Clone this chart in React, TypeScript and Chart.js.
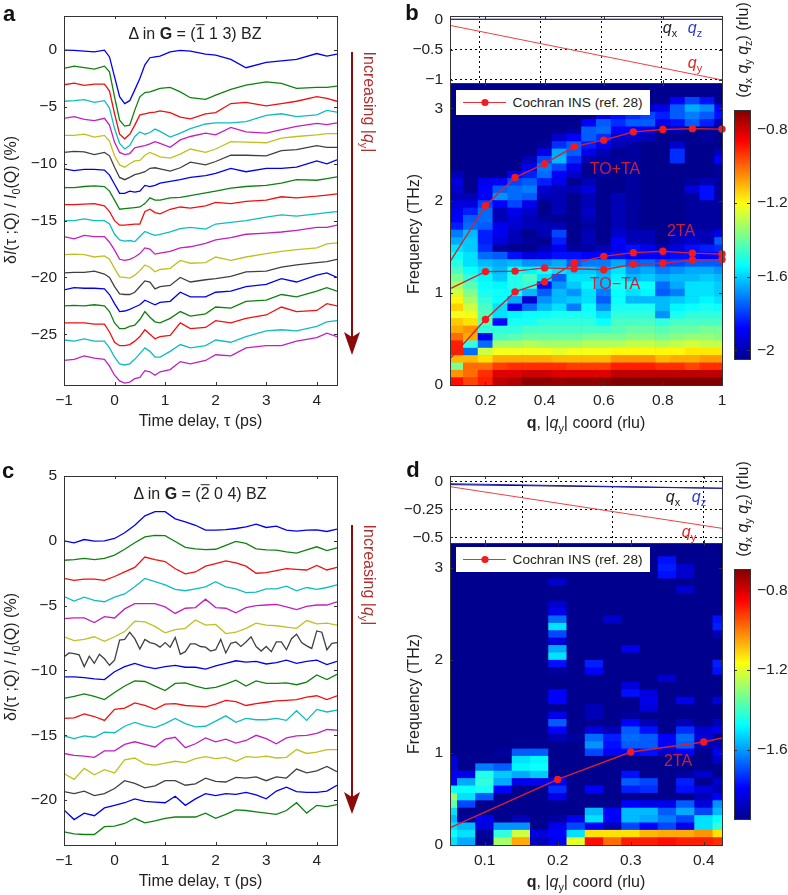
import React, { useEffect, useRef } from "react";
import { Chart, registerables } from "chart.js";

Chart.register(...registerables);
Chart.defaults.font.family = "'Liberation Sans', Arial, sans-serif";
Chart.defaults.font.size = 15.5;
Chart.defaults.color = "#222";

const COLORS = ["#0000f0", "#108010", "#f01010", "#10bcc0", "#c020c0", "#c0c020", "#404040"];

// ---------- panel a ----------
const timesA = [-1, -0.8, -0.6, -0.4, -0.2, -0.1, 0, 0.1, 0.2, 0.3, 0.4, 0.5, 0.6, 0.7, 0.8, 0.9, 1.1, 1.3, 1.5, 1.8, 2, 2.3, 2.6, 3, 3.3, 3.6, 4, 4.2, 4.4];
const a0 = [0, -0.03, -0.09, -0.15, 0, -0.6, -2.35, -4.1, -4.7, -4.45, -3.5, -2.5, -1.3, -0.67, -0.59, -0.53, -0.15, -0.03, -0.09, -0.35, -0.44, -0.82, -1.55, -1.08, -0.94, -0.82, -0.3, -0.53, -0.35];
const a1 = [-1.61, -1.41, -1.55, -1.67, -1.41, -1.91, -4.11, -6.16, -6.69, -6.6, -5.28, -4.11, -3.73, -3.67, -3.52, -3.37, -3.28, -3.67, -4.19, -4.34, -3.96, -3.46, -3.08, -2.79, -2.93, -3.37, -3.28, -3.28, -3.17];
const a2 = [-3.05, -2.9, -3.1, -3, -3, -3.6, -5.6, -7.4, -7.8, -7.4, -6.6, -5.7, -5.6, -5.5, -5.45, -5.35, -5.5, -5.9, -6.05, -5.6, -5.5, -4.7, -4.6, -4.9, -4.7, -4.5, -4.1, -4.25, -4.5];
const a3 = [-4.5, -4.45, -4.35, -4.6, -4.45, -5.1, -6.9, -8.2, -8.7, -8.4, -7.6, -7.2, -7.4, -7.25, -6.95, -7.15, -7.65, -7.3, -6.9, -6.5, -6.4, -6.4, -6.3, -5.75, -5.6, -5.85, -5.7, -5.3, -5.45];
const a4 = [-6, -5.85, -6.1, -6.2, -6, -6.6, -8.1, -9, -9.2, -9.1, -8.6, -8.5, -8.4, -8.25, -8.05, -8.2, -8.55, -7.9, -7.6, -7.3, -7.45, -6.8, -7.2, -7.3, -7, -6.7, -6.45, -6.55, -6.4];
const a5 = [-7.5, -7.5, -7.4, -7.65, -7.5, -8, -9.3, -10.1, -10.3, -10, -9.75, -9.7, -9.25, -9, -9.2, -9.4, -9.5, -9.15, -8.7, -9, -8.7, -8.05, -8.1, -8.15, -7.75, -7.6, -7.45, -7.35, -7.35];
const a6 = [-9, -8.9, -8.95, -9.2, -9, -9.3, -10.3, -11.2, -11.4, -11.2, -10.95, -10.85, -10.7, -10.4, -10.35, -10.45, -10.65, -10.35, -9.85, -10.1, -9.8, -9.25, -9.25, -9.3, -8.85, -8.75, -8.4, -8.55, -8.55];
const a7 = [-10.45, -10.6, -10.5, -10.5, -10.55, -11, -11.8, -12.6, -12.6, -12.4, -12.5, -12.4, -11.9, -12, -11.9, -11.7, -11.55, -11.4, -11.2, -11.05, -10.85, -10.4, -10.7, -10.4, -10.4, -10.3, -9.75, -10, -9.65];
const a8 = [-12.1, -12.1, -12, -11.95, -12, -12.4, -13.2, -14, -13.95, -13.9, -13.85, -13.8, -13.5, -13, -13.2, -13.2, -13, -12.95, -12.8, -12.55, -12.4, -12.15, -12, -11.9, -11.7, -11.4, -11.45, -11.3, -11.15];
const a9 = [-13.6, -13.6, -13.55, -13.5, -13.7, -14.2, -15, -15.4, -15.4, -15.35, -15.3, -15.3, -14.2, -14, -14.3, -14.4, -14, -13.8, -13.9, -13.7, -13.4, -13.5, -13.3, -13.2, -12.9, -13, -12.85, -12.75, -12.65];
const a10 = [-15, -15, -14.85, -15, -15, -15.3, -16.2, -16.7, -16.8, -16.75, -16.85, -16.4, -15.95, -16.15, -16.3, -16.2, -16, -15.7, -15.6, -15.75, -15.3, -15.15, -15, -14.7, -14.5, -14.6, -14.4, -14.3, -14.2];
const a11 = [-16.4, -16.6, -16.3, -16.4, -16.4, -16.9, -17.6, -18.4, -18.5, -18.4, -18.2, -17.9, -17.4, -17.5, -17.95, -17.85, -17.7, -17.4, -17.3, -17, -16.7, -16.5, -16.2, -16.1, -16, -15.85, -15.6, -15.6, -15.4];
const a12 = [-18, -17.95, -18, -18.2, -18.1, -18.4, -19.2, -19.95, -20, -20.05, -19.8, -19.4, -18.9, -19.1, -19.5, -19.3, -19.2, -18.5, -18.75, -18.7, -18.2, -18.5, -18.2, -17.9, -17.7, -17.55, -17.4, -17.05, -16.95];
const a13 = [-19.6, -19.55, -19.55, -19.45, -19.7, -20, -20.8, -21.45, -21.5, -21.5, -21.3, -20.8, -20.3, -20.4, -21, -20.8, -20.7, -20, -20.4, -20.2, -20.1, -19.9, -19.5, -19.45, -19.1, -18.9, -18.7, -18.6, -18.4];
const a14 = [-21.1, -20.9, -20.95, -20.95, -21, -21.5, -22.3, -23, -22.95, -22.8, -22.6, -22.4, -22, -22.2, -22.4, -22.2, -22.1, -21.3, -21.7, -21.7, -21.3, -21.2, -20.8, -20.6, -20.1, -20.4, -19.8, -19.6, -20];
const a15 = [-22.5, -22.45, -22.5, -22.4, -22.5, -23, -24, -24.5, -24.5, -24.3, -24.2, -23.7, -23, -23.5, -23.9, -24, -23.6, -23, -23.4, -23.2, -22.6, -22.7, -22.1, -22, -21.5, -21.7, -21.2, -20.9, -21.2];
const a16 = [-24, -24, -24, -24.1, -24.1, -24.8, -25.7, -26, -26, -25.9, -25.6, -25.2, -24.6, -25, -25.4, -25.2, -25.1, -24, -24.5, -24.4, -23.8, -24, -23.6, -23.3, -22.6, -23, -22.9, -22.3, -22.5];
const a17 = [-25.5, -25.6, -25.4, -25.6, -25.6, -26.2, -27, -27.6, -27.7, -27.6, -27.2, -26.7, -26.2, -26.5, -27, -27, -26.5, -25.9, -26.2, -26, -25.5, -25.7, -25.2, -24.7, -24.6, -24.7, -24.3, -23.9, -23.8];
const a18 = [-27.3, -27.2, -26.9, -27.1, -27.2, -27.8, -28.6, -29.1, -29.3, -29.2, -28.9, -28.8, -28.2, -28.3, -28.6, -28.3, -28.1, -27.4, -27.6, -27.3, -26.8, -26.9, -26.2, -26, -26, -25.6, -25.3, -24.9, -25.2];
const seriesA = [a0, a1, a2, a3, a4, a5, a6, a7, a8, a9, a10, a11, a12, a13, a14, a15, a16, a17, a18];

// ---------- panel c ----------
const timesC = [-1, -0.8, -0.6, -0.4, -0.2, 0, 0.2, 0.4, 0.6, 0.8, 1, 1.2, 1.4, 1.6, 1.8, 2, 2.2, 2.4, 2.6, 2.8, 3, 3.2, 3.4, 3.6, 3.8, 4, 4.2, 4.4];
const timesCFine = [-1, -0.9, -0.8, -0.7, -0.6, -0.5, -0.4, -0.3, -0.2, -0.1, 0, 0.1, 0.2, 0.3, 0.4, 0.5, 0.6, 0.7, 0.8, 0.9, 1, 1.1, 1.2, 1.3, 1.4, 1.5, 1.6, 1.7, 1.8, 1.9, 2, 2.1, 2.2, 2.3, 2.4, 2.5, 2.6, 2.7, 2.8, 2.9, 3, 3.1, 3.2, 3.3, 3.4, 3.5, 3.6, 3.7, 3.8, 3.9, 4, 4.1, 4.2, 4.3, 4.4];
const c0 = [0, -0.15, 0.1, -0.02, 0, 0.18, 0.62, 1.2, 1.93, 2.25, 2.25, 1.7, 1.46, 1.2, 0.82, 0.82, 0.87, 0.95, 1.08, 1.28, 1.03, 1.13, 0.82, 0.75, 0.82, 0.85, 0.72, 0.9];
const c1 = [-1.5, -1.45, -1.35, -1.45, -1.35, -1.1, -0.65, -0.15, 0.3, 0.42, 0.4, -0.05, -0.5, -0.62, -0.68, -0.65, -0.35, -0.05, -0.2, -0.62, -0.7, -0.72, -0.85, -0.95, -0.7, -0.46, -0.75, -0.54];
const c2 = [-2.9, -3.05, -2.95, -2.95, -3.05, -2.75, -2.4, -2.05, -1.25, -1.45, -1.6, -2.15, -2.55, -2.4, -1.95, -1.75, -1.55, -1.7, -1.95, -2.5, -2.45, -2.3, -2.15, -2.2, -2.25, -1.9, -2.25, -2.05];
const c3 = [-4.3, -4.65, -4.35, -4.6, -4.7, -4.35, -4.1, -3.55, -2.9, -3.15, -3.4, -3.75, -3.85, -3.7, -3.55, -3.15, -3.55, -3.7, -4, -3.95, -3.7, -3.7, -3.5, -3.85, -3.6, -3.75, -3.6, -3.4];
const c4 = [-6, -5.95, -5.95, -6.3, -5.85, -5.95, -5.25, -4.85, -4.85, -4.85, -5.1, -5.6, -5.2, -5.15, -4.5, -5.15, -5.2, -5.55, -5.15, -5, -4.95, -4.9, -5.1, -5.3, -5.05, -4.95, -4.95, -4.7];
const c5 = [-7.4, -7.7, -7.6, -7.4, -7.75, -7.4, -7, -6.2, -6.25, -6.6, -7.1, -6.85, -6.75, -6.1, -6.5, -6.45, -7.15, -7.05, -6.75, -6.35, -6.5, -6.55, -6.65, -6.75, -6.15, -6.4, -6.35, -6.5];
const c6 = [-8.95, -8.65, -8.7, -8.8, -9.7, -8.9, -9.45, -8.75, -9.1, -9.6, -9.2, -7.65, -7.6, -7.05, -7.55, -8.35, -7.6, -7.85, -7.95, -8.2, -7.85, -8.2, -7.45, -8.75, -8.55, -7.95, -7.95, -8.15, -8.2, -8.5, -8.4, -7.6, -8.65, -7.9, -7.8, -8.15, -7.8, -7.4, -8.15, -8.5, -8.15, -8.55, -7.8, -7.8, -8.4, -7.55, -7.2, -7.85, -8.1, -8.3, -6.95, -7.05, -8.4, -7.9, -7.85];
const c7 = [-10.5, -10.5, -10.55, -10.65, -10.7, -10.1, -9.7, -9.45, -9.7, -9.85, -9.7, -9.6, -9.75, -9.75, -9.9, -9.65, -9.45, -9.25, -9.35, -9.3, -9.5, -9.4, -9.2, -9.45, -9.3, -9.2, -9.55, -9.3];
const c8 = [-12.15, -12, -11.8, -12, -12.25, -11.7, -11.2, -10.8, -10.85, -11.2, -11.55, -11, -10.95, -11.2, -11.4, -11.3, -11.05, -10.75, -11.2, -10.8, -11, -11, -10.95, -11.1, -10.9, -10.35, -10.7, -10.3];
const c9 = [-13.7, -13.65, -13.35, -13.55, -13.85, -13, -12.9, -12.5, -12.7, -13, -12.6, -12.55, -12.7, -12.75, -12.8, -12.6, -12.3, -12.4, -12.7, -12.55, -12.45, -12.35, -12.3, -12.25, -12.05, -11.95, -12.25, -11.95];
const c10 = [-15.05, -15.25, -15.05, -15.15, -14.75, -14.8, -14.3, -14, -14.25, -14.4, -14.1, -13.7, -14.1, -14.35, -14.3, -13.9, -13.5, -14, -13.7, -13.8, -13.8, -13.7, -13.85, -13.1, -13.85, -13, -13.2, -13.05];
const c11 = [-16.4, -16.55, -16.6, -16.7, -16.2, -16.2, -15.7, -15.5, -15.7, -15.9, -15.3, -15.15, -15.95, -15.65, -15.2, -15.5, -15.3, -15.6, -15.4, -15, -15.25, -15.65, -15.2, -15.05, -15, -14.85, -14.55, -14.6];
const c12 = [-17.95, -18.4, -17.55, -18.05, -17.65, -17.9, -16.9, -16.75, -17.2, -17.3, -17.15, -17, -17.1, -16.8, -16.65, -16.8, -16.7, -17, -16.65, -16.7, -16.6, -16.75, -16.7, -16.1, -16.4, -16.3, -16.1, -16.1];
const c13 = [-19.35, -19.5, -19.3, -19.65, -19.5, -19.1, -18.5, -18.7, -19.05, -18.9, -18.5, -18.5, -18.85, -18.75, -18.3, -18.55, -18.6, -18.25, -18.3, -18.2, -18.5, -18.2, -18.3, -17.6, -17.9, -17.75, -17.4, -17.8];
const c14 = [-20.75, -21.5, -21, -21.2, -20.6, -20.4, -20.2, -19.9, -20.1, -20.15, -20.2, -19.7, -20.4, -19.9, -19.5, -19.65, -19.5, -19.55, -19.4, -19.6, -19.9, -19.3, -19, -19.35, -19.4, -19.4, -19.3, -18.85];
const c15 = [-22.45, -22.6, -22.65, -22.65, -22.05, -22, -21.8, -21.4, -21.75, -21.6, -21.4, -21.3, -21.3, -21.3, -21, -21.4, -21.1, -20.75, -20.8, -20.9, -21, -21.1, -20.8, -20.2, -21, -20.4, -20.5, -20.35];
const seriesC = [c0, c1, c2, c3, c4, c5, c6, c7, c8, c9, c10, c11, c12, c13, c14, c15];

// ---------- panel b ----------
const FREQ_BIN = 0.08;
const qB = [0.1, 0.15, 0.2, 0.25, 0.3, 0.35, 0.4, 0.45, 0.5, 0.55, 0.6, 0.65, 0.7, 0.75, 0.8, 0.85, 0.9, 0.95, 1];
const heatB = [
  [-0.88, -1.05, -1.35, -1.1, -0.9, -0.9, -1, -1.08, -1.12, -1.2, -1.13, -1.18, -1.25, -1.3, -1.36, -1.42, -1.46, -1.5, -1.55, -1.62, -1.68, -1.8, -1.85, -1.88, -1.9, -1.95, -1.92, -1.9, -1.95, -2],
  [-0.95, -1, -1, -1.1, -1.7, -1.45, -1.08, -1.05, -1.15, -1.2, -1.25, -1.3, -1.35, -1.4, -1.45, -1.5, -1.55, -1.55, -1.58, -1.58, -1.6, -1.7, -1.72, -1.8, -1.9, -1.95],
  [-0.9, -0.92, -1, -1.15, -1.25, -1.7, -1.87, -1.45, -1.4, -1.4, -1.42, -1.45, -1.48, -1.5, -1.52, -1.55, -1.6, -1.7, -1.78, -1.8, -1.8, -1.72, -1.7, -1.7, -1.75, -1.85, -1.85, -1.88, -2],
  [-0.78, -0.82, -0.94, -1.08, -1.2, -1.3, -1.42, -1.45, -1.83, -1.55, -1.55, -1.5, -1.5, -1.52, -1.58, -1.6, -1.62, -1.72, -1.98, -1.9, -1.88, -1.88, -1.95, -1.95, -1.85, -1.65, -1.72, -1.85, -2],
  [-0.76, -0.82, -0.92, -1.08, -1.2, -1.3, -1.4, -1.45, -1.48, -1.52, -1.88, -1.62, -1.5, -1.47, -1.47, -1.5, -1.6, -1.82, -2, -1.95, -1.95, -1.92, -1.9, -1.88, -1.75, -1.7, -1.7, -1.75, -1.88, -2],
  [-0.72, -0.8, -0.92, -1.08, -1.2, -1.28, -1.38, -1.42, -1.48, -1.5, -1.7, -1.92, -1.6, -1.45, -1.42, -1.52, -1.65, -1.9, -2, -1.98, -2, -1.95, -1.95, -1.92, -1.88, -1.72, -1.68, -1.72, -1.8, -1.88, -1.95, -2],
  [-0.72, -0.8, -0.92, -1.08, -1.2, -1.3, -1.38, -1.42, -1.45, -1.5, -1.6, -1.65, -1.72, -1.82, -1.55, -1.48, -1.65, -1.88, -1.95, -2, -1.95, -1.95, -1.98, -2, -2, -1.95, -1.92, -1.8, -1.7, -1.68, -1.75, -1.88, -1.98, -2],
  [-0.73, -0.82, -0.92, -1.1, -1.22, -1.3, -1.38, -1.42, -1.45, -1.48, -1.55, -1.6, -1.6, -1.65, -1.72, -1.55, -1.62, -1.82, -1.88, -1.8, -1.75, -1.95, -2, -1.95, -1.95, -1.95, -1.95, -1.88, -1.85, -1.75, -1.6, -1.62, -1.78, -1.92, -2],
  [-0.72, -0.82, -0.94, -1.1, -1.2, -1.3, -1.38, -1.42, -1.45, -1.48, -1.68, -1.58, -1.65, -1.58, -1.55, -1.58, -1.72, -1.82, -1.98, -2, -2, -2, -2, -2, -2, -2, -1.95, -2, -1.92, -1.88, -1.78, -1.72, -1.72, -1.85, -1.98],
  [-0.72, -0.82, -0.94, -1.1, -1.2, -1.28, -1.36, -1.42, -1.45, -1.48, -1.5, -1.55, -1.55, -1.52, -1.55, -1.58, -1.68, -1.85, -1.98, -1.95, -1.95, -1.98, -1.95, -1.93, -1.95, -1.95, -1.9, -1.95, -2, -2, -1.95, -1.88, -1.8, -1.72, -1.72, -1.85, -2],
  [-0.72, -0.82, -0.94, -1.1, -1.2, -1.28, -1.36, -1.42, -1.5, -1.55, -1.65, -1.72, -1.68, -1.6, -1.6, -1.62, -1.68, -1.85, -1.95, -2, -2, -2, -2, -2, -2, -2, -2, -2, -1.98, -1.98, -1.98, -1.95, -1.88, -1.78, -1.7, -1.72, -1.88, -2],
  [-0.7, -0.78, -0.9, -1.05, -1.18, -1.28, -1.36, -1.4, -1.42, -1.45, -1.48, -1.5, -1.5, -1.48, -1.52, -1.55, -1.62, -1.82, -1.88, -1.85, -1.92, -1.95, -1.95, -1.95, -1.95, -1.95, -2, -2, -2, -2, -1.98, -2, -1.95, -1.92, -1.85, -1.78, -1.82, -1.9, -1.98],
  [-0.7, -0.78, -0.9, -1.05, -1.18, -1.26, -1.34, -1.38, -1.42, -1.45, -1.48, -1.6, -1.55, -1.5, -1.6, -1.65, -1.72, -1.85, -1.82, -1.95, -1.95, -1.98, -1.98, -1.98, -1.98, -1.98, -1.98, -1.98, -1.98, -1.98, -1.98, -1.98, -1.98, -1.92, -1.85, -1.72, -1.78, -1.95],
  [-0.7, -0.78, -0.9, -1.05, -1.18, -1.26, -1.34, -1.38, -1.42, -1.45, -1.48, -1.6, -1.52, -1.5, -1.58, -1.62, -1.7, -1.85, -1.88, -1.95, -1.95, -2, -2, -2, -2, -2, -2, -2, -2, -2, -2, -2, -2, -1.95, -1.88, -1.72, -1.75, -1.92],
  [-0.7, -0.78, -0.92, -1.1, -1.18, -1.28, -1.36, -1.4, -1.45, -1.65, -1.6, -1.6, -1.72, -1.7, -1.62, -1.68, -1.75, -1.85, -1.95, -2, -2, -2, -2, -2, -2, -2, -2, -2, -2, -2, -2, -2, -2, -2, -2, -1.88, -1.8, -1.88, -2],
  [-0.7, -0.78, -0.92, -1.08, -1.18, -1.26, -1.34, -1.38, -1.42, -1.48, -1.52, -1.58, -1.68, -1.62, -1.6, -1.65, -1.75, -1.82, -1.9, -1.95, -1.95, -2, -2, -2, -2, -2, -2, -2, -2, -2, -1.78, -1.78, -1.92, -2, -1.95, -1.82, -1.72, -1.72, -1.85],
  [-0.7, -0.78, -0.95, -1.08, -1.16, -1.24, -1.32, -1.38, -1.42, -1.45, -1.5, -1.55, -1.55, -1.55, -1.6, -1.62, -1.72, -1.82, -1.82, -1.92, -1.95, -1.98, -1.98, -1.98, -1.98, -1.98, -1.9, -1.98, -2, -2, -2, -2, -2, -2, -2, -1.72, -1.68, -1.62, -1.75],
  [-0.7, -0.78, -0.92, -1.06, -1.16, -1.26, -1.32, -1.36, -1.42, -1.45, -1.48, -1.52, -1.55, -1.55, -1.58, -1.62, -1.72, -1.85, -1.8, -1.95, -1.95, -1.98, -1.98, -1.98, -1.98, -1.82, -1.82, -1.95, -2, -2, -2, -2, -2, -1.98, -2, -1.8, -1.72, -1.66, -1.82],
  [-0.7, -0.78, -0.92, -1.06, -1.16, -1.26, -1.34, -1.36, -1.42, -1.45, -1.5, -1.55, -1.58, -1.58, -1.6, -1.65, -1.72, -1.85, -1.78, -1.72, -1.88, -1.98, -1.98, -1.98, -1.98, -1.98, -1.98, -1.98, -1.98, -1.98, -1.85, -1.95, -2, -2, -2, -1.95, -1.82, -1.85, -2],
];
const inelasticQ = [0, 0.2, 0.3, 0.4, 0.5, 0.6, 0.7, 0.8, 0.9, 1];
const toPlusTa = [0.93, 1.945, 2.25, 2.4, 2.585, 2.655, 2.745, 2.77, 2.78, 2.775];
const toMinusTa = [0.92, 1.23, 1.235, 1.27, 1.26, 1.25, 1.31, 1.32, 1.355, 1.36];
const twoTaB = [0, 0.71, 1.01, 1.12, 1.325, 1.395, 1.435, 1.45, 1.43, 1.42];
const stripQB = [0.08, 1];
const qxB = [0, 0];
const qzB = [0, 0];
const qyB = [-0.1, -1];
const stripGridB = [0.181, 0.387, 0.592, 0.797];
const stripTicksB = [0.2, 0.4, 0.6, 0.8];

// ---------- panel d ----------
const qD = [0.05, 0.075, 0.1, 0.125, 0.15, 0.175, 0.2, 0.225, 0.25, 0.275, 0.3, 0.325, 0.35, 0.375, 0.4, 0.425];
const heatD = [
  [-1.55, -1.5, -1.55, -1.6, -1.55, -1.38, -1.32, -1.5, -1.85, -1.88, -1.9, -1.9],
  [-1.62, -1.55, -1.6, -1.98, -2, -1.75, -1.55, -1.5, -1.62, -1.88],
  [-2, -1.98, -1.9, -1.88, -2, -2, -1.72, -1.48, -1.45, -1.47, -1.68, -2],
  [-1.3, -1.45, -1.65, -2, -2, -2, -2, -1.85, -1.62, -1.58, -1.72, -2, -1.98],
  [-1.08, -1.25, -1.65, -1.95, -2, -2, -2, -2, -1.88, -1.62, -1.52, -1.55, -1.72, -2],
  [-1.95, -1.9, -2, -2, -2, -2, -2, -2, -1.88, -1.58, -1.5, -1.52, -1.72, -2],
  [-1.88, -1.85, -1.88, -1.98, -2, -2, -1.88, -1.78, -1.88, -2, -2, -2, -2, -2, -1.95, -1.85, -1.72, -1.88, -2, -1.85, -1.85, -2, -2, -1.98, -1.82, -1.55, -1.62, -1.9, -1.75, -1.55, -1.7, -1.88, -1.92, -2, -2, -1.92],
  [-1.22, -1.55, -1.75, -1.88, -2, -2, -2, -2, -2, -2, -2, -2, -2, -2, -1.98],
  [-0.88, -1.15, -1.85, -1.55, -1.6, -2, -2, -1.85, -2, -2, -2, -2, -1.75, -1.65, -1.7, -1.9, -2, -1.95, -1.95, -2, -2, -2, -2, -1.85, -1.8],
  [-1, -1.15, -1.95, -1.85, -1.85, -2, -2, -2, -2, -2, -2, -2, -1.85, -1.82, -1.8, -1.95, -2, -2, -2, -2, -2, -2, -2, -2, -2, -2, -2, -2, -2, -2, -1.92],
  [-0.9, -1.15, -1.75, -1.6, -1.6, -1.85, -2, -1.8, -1.72, -1.82, -2, -2, -1.85, -1.72, -1.7, -1.72, -1.85, -1.98, -2, -2, -1.82, -1.9, -2, -2, -2, -2, -1.88],
  [-0.9, -1.1, -1.85, -1.62, -1.6, -1.88, -2, -1.78, -1.75, -2, -2, -2, -1.82, -1.72, -1.72, -1.82, -1.95, -2, -1.9, -1.88, -1.9],
  [-0.88, -1.08, -1.75, -1.68, -1.72, -1.88, -2, -2, -2, -2, -2, -2, -1.92, -1.85, -1.85, -2, -2, -2, -2, -2, -2, -2, -1.92, -2, -2, -2, -2, -2, -2, -2, -2, -2, -2, -2, -2, -2, -1.82, -1.8, -1.82],
  [-0.9, -1.08, -1.88, -1.75, -1.62, -1.72, -2, -1.82, -1.8, -1.98, -2, -2, -1.85, -1.72, -1.7, -1.78, -1.95, -2, -2, -1.88, -2, -2, -2, -2, -2, -2, -2, -2, -2, -2, -2, -2, -2, -2, -1.92, -2, -1.92, -1.92],
  [-0.9, -1.05, -1.55, -1.55, -1.75, -1.9, -1.95, -1.9, -2, -1.92, -2, -2, -2, -1.95, -1.9, -1.92],
  [-0.92, -1.15, -1.45, -1.5, -1.6, -1.65, -1.85, -1.95, -1.92, -2, -2, -1.92, -1.88, -1.95, -2, -1.88, -1.95, -2, -2, -1.9, -2, -2, -2, -1.82, -1.8, -2, -2, -2, -1.95, -1.8, -1.82],
];
const inelasticQD = [0, 0.2, 0.3, 0.4, 0.5];
const twoTaD = [0, 0.71, 1.006, 1.115, 1.287];
const stripQD = [0.0525, 0.425];
const qxD = [-0.03, -0.0625];
const qzD = [-0.022, -0.0625];
const qyD = [-0.048, -0.42];
const stripGridD = [0.1515, 0.2757, 0.3998];
const stripTicksD = [0.1, 0.2, 0.3, 0.4];

// ---------- helpers ----------
const clamp = (v: number) => Math.max(0, Math.min(1, v));
const jet = (t: number) => {
  const r = clamp(1.5 - Math.abs(4 * t - 3));
  const g = clamp(1.5 - Math.abs(4 * t - 2));
  const b = clamp(1.56 - Math.abs(4 * t - 1));
  return `rgb(${Math.round(r * 255)},${Math.round(g * 255)},${Math.round(b * 255)})`;
};
const heatColor = (v: number) => jet((v + 2) / 1.3);
const fmt = (v: any) => String(+(+v).toFixed(2)).replace("-", "\u2212");

const framePlugin = {
  id: "frame",
  afterDraw(chart: any) {
    const o = chart.options.plugins.frame || {};
    const { ctx, chartArea: a, scales } = chart;
    const len = 3;
    ctx.save();
    ctx.strokeStyle = "#333";
    ctx.lineWidth = 1;
    ctx.beginPath();
    const xs = o.xTicks ? o.xTicks : o.noX ? [] : scales.x.ticks.map((t: any) => t.value);
    xs.forEach((v: number) => {
      const p = Math.round(scales.x.getPixelForValue(v)) + 0.5;
      ctx.moveTo(p, a.top);
      ctx.lineTo(p, a.top + len);
      ctx.moveTo(p, a.bottom);
      ctx.lineTo(p, a.bottom - len);
    });
    scales.y.ticks.forEach((t: any) => {
      const p = Math.round(scales.y.getPixelForValue(t.value)) + 0.5;
      ctx.moveTo(a.left, p);
      ctx.lineTo(a.left + len, p);
      ctx.moveTo(a.right, p);
      ctx.lineTo(a.right - len, p);
    });
    ctx.stroke();
    ctx.strokeRect(a.left + 0.5, a.top + 0.5, a.right - a.left, a.bottom - a.top);
    ctx.restore();
  },
};

const heatBackground = {
  id: "heatBackground",
  beforeDatasetsDraw(chart: any) {
    if (!chart.options.plugins.heatBackground) return;
    const { ctx, chartArea: a } = chart;
    ctx.save();
    ctx.fillStyle = heatColor(-2);
    ctx.fillRect(a.left, a.top, a.right - a.left, a.bottom - a.top);
    ctx.restore();
  },
};

type Rect = { l: number; t: number; r: number; b: number };

function ChartPanel({ area, m, make, blur = 0 }: { area: Rect; m: Rect; make: (m: Rect) => any; blur?: number }) {
  const ref = useRef<HTMLCanvasElement>(null);
  useEffect(() => {
    const chart = new Chart(ref.current as any, { ...make(m), plugins: [heatBackground, framePlugin] } as any);
    return () => chart.destroy();
  }, []);
  const w = area.r - area.l + m.l + m.r;
  const h = area.b - area.t + m.t + m.b;
  return (
    <canvas
      ref={ref}
      width={w}
      height={h}
      style={{
        position: "absolute",
        left: area.l - m.l,
        top: area.t - m.t,
        width: w,
        height: h,
        filter: blur ? `blur(${blur}px)` : undefined,
      }}
    />
  );
}

const baseOptions = (m: Rect, plugins: any = {}, rightAxis = false) => ({
  responsive: false,
  animation: false,
  events: [],
  layout: {
    autoPadding: false,
    padding: { top: m.t, right: rightAxis ? 0 : m.r, left: rightAxis ? m.l : 0, bottom: 0 },
  },
  plugins: { legend: { display: false }, tooltip: { enabled: false }, ...plugins },
});
const fixX = (m: Rect) => (s: any) => {
  s.height = m.b;
  s.paddingLeft = 0;
  s.paddingRight = 0;
};
const fixY = (w: number) => (s: any) => {
  s.width = w;
  s.paddingTop = 0;
  s.paddingBottom = 0;
};
const hiddenGrid = { grid: { display: false, drawTicks: false }, border: { display: false } };
const TITLE_FONT = { size: 16 };

const traces = (times: number[], list: number[][], fine?: number[], fineIdx?: number) =>
  list.map((vals, i) => {
    const ts: any = i === fineIdx ? fine : times;
    return {
      data: vals.map((y, k) => ({ x: ts[k], y })),
      borderColor: COLORS[i % 7],
      borderWidth: 1.3,
      pointRadius: 0,
      tension: 0,
    };
  });

const traceConfig = (ds: any[], yMin: number, yMax: number, stepY: number) => (m: Rect) => ({
  type: "line",
  data: { datasets: ds },
  options: {
    ...baseOptions(m),
    scales: {
      x: {
        type: "linear",
        min: -1,
        max: 4.4,
        ...hiddenGrid,
        ticks: { stepSize: 1, padding: 6, maxRotation: 0, includeBounds: false, callback: fmt },
        title: { display: true, text: "Time delay, \u03c4 (ps)", padding: 0, color: "#222", font: TITLE_FONT },
        afterFit: fixX(m),
      },
      y: {
        type: "linear",
        min: yMin,
        max: yMax,
        ...hiddenGrid,
        ticks: { stepSize: stepY, padding: 7, includeBounds: false, callback: fmt },
        afterFit: fixY(m.l),
      },
    },
  },
});

const heatRows = (qs: number[], columns: number[][]) => {
  const rows = Math.max(...columns.map((c) => c.length));
  const out: any[] = [];
  for (let r = 0; r < rows; r++) {
    out.push({
      type: "bar",
      order: 1,
      grouped: false,
      clip: 0,
      borderWidth: 0,
      barPercentage: 1,
      categoryPercentage: 1,
      data: qs.map((q) => ({ x: q, y: [r * FREQ_BIN, (r + 1) * FREQ_BIN] })),
      backgroundColor: columns.map((c) => heatColor(c[r] ?? -2)),
    });
  }
  return out;
};
const curve = (qs: number[], vals: number[], overflowRight: number) => ({
  type: "line",
  order: -1,
  clip: { left: 0, top: 0, right: overflowRight, bottom: 0 },
  data: qs.map((x, i) => ({ x, y: vals[i] })),
  borderColor: "#d8202e",
  borderWidth: 1.4,
  pointRadius: 3.7,
  pointBorderWidth: 0,
  pointBackgroundColor: "#f01a20",
  tension: 0,
});

const heatConfig = (datasets: any[], xMin: number, xMax: number, yMax: number, stepX: number) => (m: Rect) => ({
  type: "bar",
  data: { datasets },
  options: {
    ...baseOptions(m, { heatBackground: true }),
    scales: {
      x: {
        type: "linear",
        offset: false,
        min: xMin,
        max: xMax,
        ...hiddenGrid,
        ticks: { stepSize: stepX, padding: 6, maxRotation: 0, includeBounds: false, callback: fmt },
        afterFit: fixX(m),
      },
      y: {
        type: "linear",
        min: 0,
        max: yMax,
        ...hiddenGrid,
        ticks: { stepSize: 1, padding: 7, includeBounds: false, callback: fmt },
        title: { display: true, text: "Frequency (THz)", padding: 0, color: "#222", font: TITLE_FONT },
        afterFit: fixY(m.l),
      },
    },
  },
});

const stripLine = (qs: number[], vals: number[], color: string) => ({
  data: qs.map((x, i) => ({ x, y: vals[i] })),
  borderColor: color,
  borderWidth: 1,
  pointRadius: 0,
  tension: 0,
});
const stripConfig = (datasets: any[], xMin: number, xMax: number, yMin: number, yMax: number, stepY: number, gridAt: number[], tickAt: number[]) => (m: Rect) => ({
  type: "line",
  data: { datasets },
  options: {
    ...baseOptions(m, { frame: { xTicks: tickAt } }),
    scales: {
      x: {
        type: "linear",
        min: xMin,
        max: xMax,
        grid: { color: "#000", lineWidth: 1, drawTicks: false },
        border: { display: false, dash: [2, 3] },
        ticks: { display: false },
        afterBuildTicks: (s: any) => {
          s.ticks = gridAt.map((value) => ({ value }));
        },
        afterFit: fixX(m),
      },
      y: {
        type: "linear",
        min: yMin,
        max: yMax,
        grid: { color: "#000", lineWidth: 1, drawTicks: false },
        border: { display: false, dash: [2, 3] },
        ticks: { stepSize: stepY, padding: 7, includeBounds: false, callback: fmt },
        afterFit: fixY(m.l),
      },
    },
  },
});

const colorbarConfig = (yMin: number, yMax: number) => (m: Rect) => ({
  type: "bar",
  data: {
    labels: [""],
    datasets: [
      {
        data: [[yMin, yMax]],
        borderWidth: 0,
        barPercentage: 1,
        categoryPercentage: 1,
        backgroundColor: (c: any) => {
          const { ctx, chartArea } = c.chart;
          if (!chartArea) return "#000";
          const g = ctx.createLinearGradient(0, chartArea.bottom, 0, chartArea.top);
          [0, 0.125, 0.375, 0.625, 0.875, 1].forEach((t) => g.addColorStop(t, jet(t)));
          return g;
        },
      },
    ],
  },
  options: {
    ...baseOptions(m, { frame: { noX: true } }, true),
    scales: {
      x: { type: "category", ...hiddenGrid, ticks: { display: false }, afterFit: fixX(m) },
      y: {
        type: "linear",
        position: "right",
        min: yMin,
        max: yMax,
        ...hiddenGrid,
        ticks: { stepSize: 0.4, padding: 7, includeBounds: false, callback: fmt },
        afterFit: fixY(m.r),
      },
    },
  },
});

// ---------- text overlays ----------
function T({ x, y, rot = 0, size = 16, color = "#222", bold = false, children }: any) {
  return (
    <div
      style={{
        position: "absolute",
        left: x,
        top: y,
        transform: `translate(-50%,-50%) rotate(${rot}deg)`,
        whiteSpace: "nowrap",
        font: `${bold ? "bold " : ""}${size}px/1.1 'Liberation Sans', Arial, sans-serif`,
        color,
      }}
    >
      {children}
    </div>
  );
}
const Sub = ({ children }: any) => <sub style={{ fontSize: "0.68em", lineHeight: 0 }}>{children}</sub>;
const Q = ({ s }: { s: string }) => (
  <span>
    <i>q</i>
    <Sub>{s}</Sub>
  </span>
);
const YLabel = () => (
  <span>
    {"\u03b4"}
    <i>I</i>({"\u03c4"} ;Q) / <i>I</i>
    <Sub>0</Sub>(Q) (%)
  </span>
);
const Increasing = () => (
  <span>
    Increasing |<Q s="y" />|
  </span>
);
const QAxis = () => (
  <span>
    <b>q</b>, |<Q s="y" />| coord (rlu)
  </span>
);
const QTriple = () => (
  <span>
    (<Q s="x" /> <Q s="y" /> <Q s="z" />) (rlu)
  </span>
);
const Bar = ({ children }: any) => <span style={{ textDecoration: "overline" }}>{children}</span>;

function Legend({ top }: { top: number }) {
  return (
    <div style={{ position: "absolute", left: 456, top, width: 194, height: 25, background: "#fff" }}>
      <svg width={50} height={25} style={{ position: "absolute", left: 7, top: 0 }}>
        <line x1={0} y1={12.5} x2={43} y2={12.5} stroke="#e8303a" strokeWidth={1.2} />
        <circle cx={22} cy={12.5} r={3.6} fill="#f01a20" />
      </svg>
      <div
        style={{
          position: "absolute",
          left: 56.5,
          top: 5,
          whiteSpace: "nowrap",
          font: "13.7px/1.1 'Liberation Sans', Arial, sans-serif",
          color: "#222",
        }}
      >
        Cochran INS (ref. 28)
      </div>
    </div>
  );
}

const RED_TEXT = "#c8203c";

export default function App() {
  return (
    <div
      style={{
        position: "absolute",
        left: 0,
        top: 0,
        width: 788,
        height: 895,
        background: "#fff",
        overflow: "hidden",
        filter: "blur(0.4px)",
      }}
    >
      <ChartPanel
        area={{ l: 64, t: 16, r: 337, b: 385 }}
        m={{ l: 50, t: 8, r: 4, b: 46 }}
        make={traceConfig(traces(timesA, seriesA), -29.46, 3, 5)}
      />
      <ChartPanel
        area={{ l: 64, t: 476, r: 337, b: 845 }}
        m={{ l: 50, t: 10, r: 4, b: 46 }}
        make={traceConfig(traces(timesC, seriesC, timesCFine, 6), -23.46, 5, 5)}
      />

      <ChartPanel
        area={{ l: 450, t: 83, r: 722, b: 385 }}
        m={{ l: 45, t: 0, r: 8, b: 30 }}
        blur={0.7}
        make={heatConfig(
          [curve(inelasticQ, toPlusTa, 8), curve(inelasticQ, toMinusTa, 8), curve(inelasticQ, twoTaB, 8), ...heatRows(qB, heatB)],
          0.08,
          1,
          3.275,
          0.2
        )}
      />
      <ChartPanel
        area={{ l: 450, t: 16, r: 722, b: 83 }}
        m={{ l: 45, t: 8, r: 8, b: 10 }}
        make={stripConfig(
          [stripLine(stripQB, qzB, "#3030e0"), stripLine(stripQB, qxB, "#000"), stripLine(stripQB, qyB, "#f04040")],
          0.08,
          1,
          -1.05,
          0.055,
          0.5,
          stripGridB,
          stripTicksB
        )}
      />
      <ChartPanel area={{ l: 734, t: 110, r: 750, b: 359 }} m={{ l: 0, t: 8, r: 38, b: 8 }} make={colorbarConfig(-2.047, -0.695)} />

      <ChartPanel
        area={{ l: 450, t: 543, r: 722, b: 845 }}
        m={{ l: 45, t: 0, r: 8, b: 30 }}
        blur={0.7}
        make={heatConfig([curve(inelasticQD, twoTaD, 0), ...heatRows(qD, heatD)], 0.0525, 0.425, 3.268, 0.1)}
      />
      <ChartPanel
        area={{ l: 450, t: 476, r: 722, b: 543 }}
        m={{ l: 60, t: 8, r: 8, b: 10 }}
        make={stripConfig(
          [stripLine(stripQD, qzD, "#2020c0"), stripLine(stripQD, qxD, "#000040"), stripLine(stripQD, qyD, "#f04040")],
          0.0525,
          0.425,
          -0.551,
          0.047,
          0.25,
          stripGridD,
          stripTicksD
        )}
      />
      <ChartPanel area={{ l: 734, t: 569, r: 750, b: 819 }} m={{ l: 0, t: 8, r: 38, b: 8 }} make={colorbarConfig(-1.95, -0.69)} />

      <svg width={788} height={895} style={{ position: "absolute", left: 0, top: 0, pointerEvents: "none" }}>
        <line x1={352} y1={52} x2={352} y2={340} stroke="#8b0a0a" strokeWidth={2} />
        <polygon points="344,332 352,337 360,332 352,355" fill="#8b0a0a" />
        <line x1={352} y1={525} x2={352} y2={800} stroke="#8b0a0a" strokeWidth={2} />
        <polygon points="344,792 352,797 360,792 352,814" fill="#8b0a0a" />
      </svg>

      <Legend top={89.5} />
      <Legend top={547} />

      <T x={9} y={14} size={22} bold color="#111">a</T>
      <T x={412} y={13} size={22} bold color="#111">b</T>
      <T x={8} y={471} size={22} bold color="#111">c</T>
      <T x={413} y={470} size={22} bold color="#111">d</T>

      <T x={195} y={34}>
        {"\u0394"} in <b>G</b> = (<Bar>1</Bar> 1 3) BZ
      </T>
      <T x={200} y={493.5}>
        {"\u0394"} in <b>G</b> = (<Bar>2</Bar> 0 4) BZ
      </T>

      <T x={11} y={200} rot={-90}><YLabel /></T>
      <T x={11} y={657} rot={-90}><YLabel /></T>
      <T x={369} y={102} rot={90} color="#b03030"><Increasing /></T>
      <T x={369} y={575} rot={90} color="#b03030"><Increasing /></T>

      <T x={586} y={423}><QAxis /></T>
      <T x={586} y={882}><QAxis /></T>
      <T x={743} y={50} rot={-90}><QTriple /></T>
      <T x={743} y={509} rot={-90}><QTriple /></T>

      <T x={670} y={28}><Q s="x" /></T>
      <T x={695} y={28} color="#2a3ad0"><Q s="z" /></T>
      <T x={695} y={63} color="#e02020"><Q s="y" /></T>
      <T x={673} y={497}><Q s="x" /></T>
      <T x={699} y={497} color="#2a3ad0"><Q s="z" /></T>
      <T x={689} y={532} color="#e02020"><Q s="y" /></T>

      <T x={615} y={169} color={RED_TEXT}>TO+TA</T>
      <T x={681} y={231} color={RED_TEXT}>2TA</T>
      <T x={615} y={284} color={RED_TEXT}>TO{"\u2212"}TA</T>
      <T x={678} y={761} color={RED_TEXT}>2TA</T>
    </div>
  );
}
